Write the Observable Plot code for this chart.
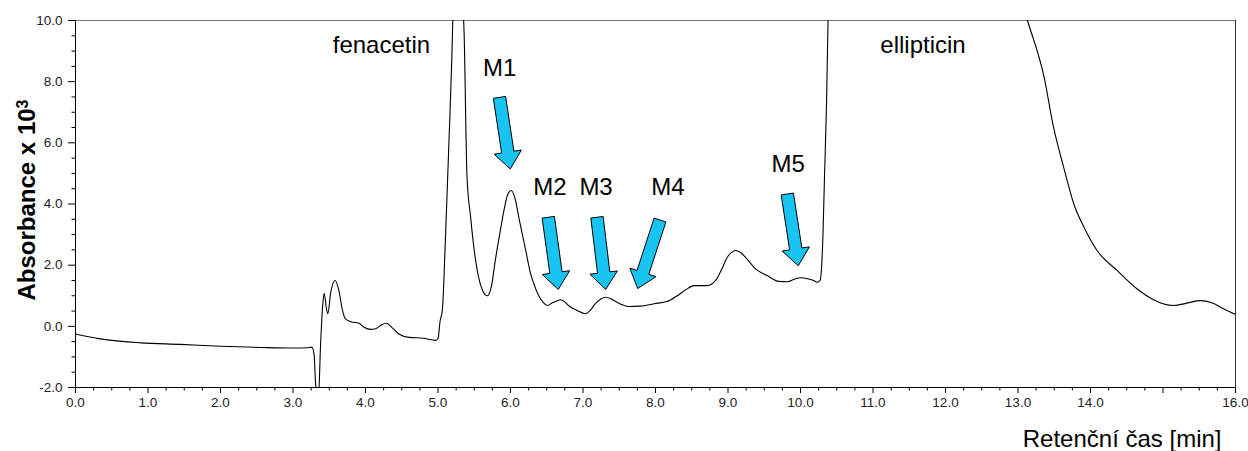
<!DOCTYPE html>
<html>
<head>
<meta charset="utf-8">
<script src="https://cdn.jsdelivr.net/npm/d3@7"></script>
<script src="https://cdn.jsdelivr.net/npm/@observablehq/plot@0.6"></script>
<style>
  html, body { margin: 0; padding: 0; background: #fff; }
  g[aria-label$="tick label"], g[aria-label$="tick label"] text {
    font-size: 13.5px !important;
    font-family: 'Liberation Sans', Arial, sans-serif !important;
  }
</style>
</head>
<body>
<div id="chart"></div>
<script>
// Chromatogram trace (retention time in min, absorbance x 10^3)
const times = [0.00,0.34,0.90,1.45,2.00,2.55,3.00,3.20,3.26,3.29,3.31,3.33,3.35,3.38,3.41,3.43,3.46,3.48,3.52,3.58,3.63,3.68,3.72,3.80,3.91,3.98,4.07,4.14,4.22,4.29,4.37,4.46,4.60,4.80,4.97,5.00,5.03,5.06,5.10,5.15,5.19,5.21,5.25,5.30,5.345,5.36,5.40,5.45,5.50,5.56,5.62,5.68,5.74,5.79,5.85,5.91,5.96,6.01,6.06,6.12,6.21,6.28,6.32,6.39,6.45,6.51,6.57,6.63,6.69,6.75,6.80,6.92,7.03,7.10,7.17,7.25,7.32,7.40,7.47,7.55,7.63,7.79,7.98,8.16,8.30,8.42,8.53,8.71,8.83,8.92,8.99,9.05,9.10,9.17,9.24,9.38,9.54,9.70,9.82,9.92,10.00,10.11,10.18,10.23,10.27,10.29,10.31,10.33,10.36,10.38,10.42,10.8,11.8,12.6,13.0,13.13,13.36,13.49,13.63,13.77,13.91,14.09,14.37,14.64,14.87,15.00,15.15,15.33,15.52,15.68,15.84,16.00];
const absorbance = [-0.25,-0.41,-0.54,-0.59,-0.65,-0.69,-0.71,-0.70,-0.68,-0.90,-1.80,-2.40,-2.40,-0.60,0.70,1.08,0.60,0.41,1.10,1.50,1.20,0.55,0.25,0.15,0.10,-0.03,-0.10,-0.08,0.05,0.10,-0.05,-0.25,-0.36,-0.39,-0.46,-0.40,0.19,0.52,2.70,5.98,8.70,10.6,12.5,12.5,10.6,9.6,4.90,3.57,2.48,1.61,1.15,1.00,1.35,2.15,3.00,3.79,4.30,4.44,4.20,3.50,2.48,1.70,1.40,1.00,0.78,0.68,0.76,0.82,0.87,0.80,0.68,0.52,0.41,0.52,0.74,0.90,0.95,0.88,0.79,0.70,0.65,0.66,0.74,0.81,1.00,1.20,1.33,1.33,1.50,1.90,2.26,2.42,2.48,2.42,2.26,1.88,1.66,1.47,1.46,1.55,1.59,1.55,1.50,1.44,1.50,1.90,3.00,4.80,7.38,10.0,12.5,14,15,14,11,10.0,8.15,6.51,5.20,4.00,3.24,2.48,1.82,1.23,0.87,0.74,0.68,0.76,0.84,0.76,0.57,0.39];

// Axis ticks
const xMajorTicks = [0,1,2,3,4,5,6,7,8,9,10,11,12,13,14,15,16];
const xTickLabels = ["0.0","1.0","2.0","3.0","4.0","5.0","6.0","7.0","8.0","9.0","10.0","11.0","12.0","13.0","14.0","","16.0"];
const yMajorTicks = [-2,0,2,4,6,8,10];
const yTickLabels = ["-2.0","0.0","2.0","4.0","6.0","8.0","10.0"];

// Annotations
const labelNames = ["fenacetin","ellipticin","M1","M2","M3","M4","M5"];
const labelX = [4.22,11.69,5.85,6.545,7.18,8.17,9.83];
const labelY = [9.18,9.18,8.43,4.53,4.53,4.53,5.29];

// Metabolite arrows (start -> tip)
const arrowFromX = [5.855,6.528,7.200,8.069,9.825];
const arrowFromY = [7.47,3.55,3.55,3.46,4.31];
const arrowToX = [6.004,6.666,7.320,7.761,9.977];
const arrowToY = [5.13,1.19,1.19,1.22,1.965];

const xTitle = "Retenční čas [min]";
const yTitleMain = "Absorbance x 10";
const yTitleSup = "3";

const trace = times.map((t, i) => ({t, a: absorbance[i]}));
const labels = labelNames.map((name, i) => ({name, x: labelX[i], y: labelY[i]}));
const arrows = arrowFromX.map((x1, i) => ({x1, y1: arrowFromY[i], x2: arrowToX[i], y2: arrowToY[i]}));

const xMinor = d3.range(0, 16.001, 0.25).filter(v => Math.abs(v - Math.round(v)) > 1e-6);
const yMinor = d3.range(-2, 10.001, 0.5).filter(v => Math.abs(v/2 - Math.round(v/2)) > 1e-6);

const sans = "'Liberation Sans', Arial, sans-serif";

function blockArrows(data) {
  return Plot.dot(data, {
    x: "x1", y: "y1",
    render(index, scales, values, dimensions, context) {
      const g = d3.create("svg:g");
      const sw = 6.2, hw = 13.8, hl = 17;
      for (const i of index) {
        const d = data[i];
        const x1 = scales.x(d.x1), y1 = scales.y(d.y1);
        const x2 = scales.x(d.x2), y2 = scales.y(d.y2);
        const L = Math.hypot(x2 - x1, y2 - y1);
        const ux = (x2 - x1) / L, uy = (y2 - y1) / L;
        const nx = -uy, ny = ux;
        const bx = x2 - ux * hl, by = y2 - uy * hl;
        const pts = [
          [x1 + nx * sw, y1 + ny * sw],
          [bx + nx * sw, by + ny * sw],
          [bx + nx * hw, by + ny * hw],
          [x2, y2],
          [bx - nx * hw, by - ny * hw],
          [bx - nx * sw, by - ny * sw],
          [x1 - nx * sw, y1 - ny * sw]
        ];
        g.append("path")
          .attr("d", "M" + pts.map(p => p[0].toFixed(2) + "," + p[1].toFixed(2)).join("L") + "Z")
          .attr("fill", "#17C4F2")
          .attr("stroke", "#000")
          .attr("stroke-width", 1)
          .attr("stroke-linejoin", "miter");
      }
      return g.node();
    }
  });
}

const chart = Plot.plot({
  width: 1248,
  height: 451,
  marginLeft: 75,
  marginRight: 13,
  marginTop: 20,
  marginBottom: 64,
  style: {fontFamily: sans, fontSize: "14px", color: "#222", background: "#fff"},
  x: {domain: [0, 16], label: null},
  y: {domain: [-2, 10], label: null},
  marks: [
    Plot.axisX({ticks: xMinor, tickSize: 3.5, tickFormat: () => "", label: null, stroke: "#000"}),
    Plot.axisX({ticks: xMajorTicks, tickSize: 6, tickPadding: 4, tickFormat: (d, i) => xTickLabels[i], label: null, stroke: "#000", fill: "#222", fontSize: 14, fontFamily: sans}),
    Plot.axisY({ticks: yMinor, tickSize: 3.5, tickFormat: () => "", label: null, stroke: "#000"}),
    Plot.axisY({ticks: yMajorTicks, tickSize: 7, tickPadding: 6, tickFormat: (d, i) => yTickLabels[i], label: null, stroke: "#000", fill: "#222", fontSize: 14, fontFamily: sans}),
    Plot.ruleY([10], {stroke: "#777", strokeWidth: 1}),
    Plot.ruleX([16], {stroke: "#333", strokeWidth: 1}),
    Plot.line(trace, {x: "t", y: "a", stroke: "#000", strokeWidth: 1.1, curve: "monotone-x", clip: true}),
    Plot.ruleX([0], {stroke: "#000", strokeWidth: 1}),
    Plot.ruleY([-2], {stroke: "#000", strokeWidth: 1}),
    blockArrows(arrows),
    Plot.text(labels, {x: "x", y: "y", text: "name", fontFamily: sans, fontSize: 24, fill: "#000", textAnchor: "middle", lineAnchor: "middle"}),
    Plot.text([yTitleMain], {frameAnchor: "left", rotate: -90, dx: -48, dy: -4, fontFamily: sans, fontWeight: "bold", fontSize: 24, fill: "#000", lineAnchor: "middle", textAnchor: "middle", className: "ytitle"}),
    Plot.text([xTitle], {frameAnchor: "bottom-right", dx: -14, dy: 52, fontFamily: sans, fontSize: 24, fill: "#000", textAnchor: "end", lineAnchor: "middle"})
  ]
});

// superscript exponent on the y-axis title
d3.select(chart).selectAll(".ytitle text").each(function() {
  d3.select(this).append("tspan").attr("dy", "-0.45em").attr("font-size", "16").text(yTitleSup);
});
document.getElementById("chart").appendChild(chart);
</script>
</body>
</html>
